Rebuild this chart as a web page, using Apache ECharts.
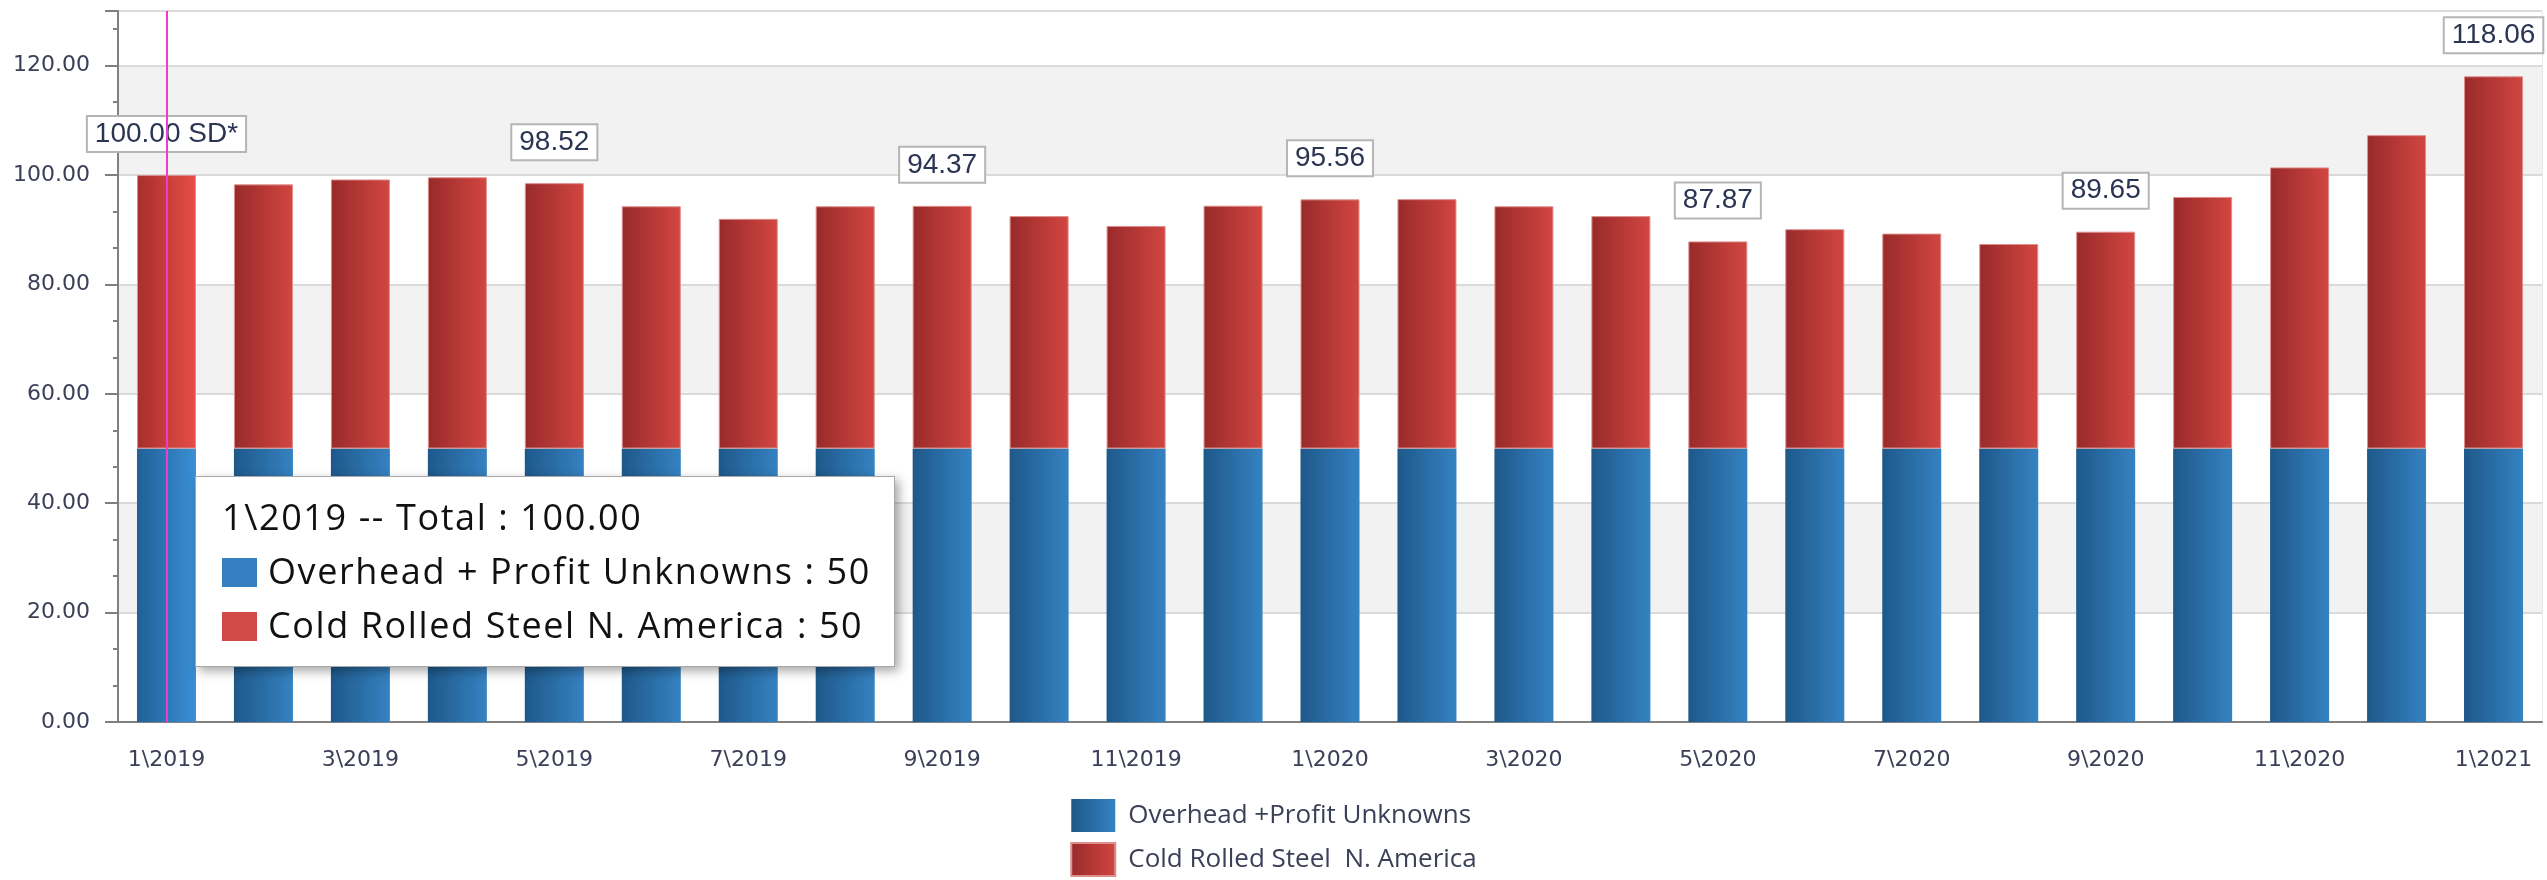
<!DOCTYPE html>
<html>
<head>
<meta charset="utf-8">
<script src="https://cdn.jsdelivr.net/npm/echarts@6/dist/echarts.min.js"></script>
<style>
html,body{margin:0;padding:0;background:#ffffff;}
#chart{width:2547px;height:880px;}
</style>
</head>
<body>
<div id="chart"></div>
<script>
// ---- data ----
const categories = ['1\\2019','2\\2019','3\\2019','4\\2019','5\\2019','6\\2019','7\\2019','8\\2019','9\\2019','10\\2019','11\\2019','12\\2019',
                    '1\\2020','2\\2020','3\\2020','4\\2020','5\\2020','6\\2020','7\\2020','8\\2020','9\\2020','10\\2020','11\\2020','12\\2020',
                    '1\\2021'];
const overheadName = 'Overhead + Profit Unknowns';
const steelName = 'Cold Rolled Steel N. America';
const overheadValues = [50,50,50,50,50,50,50,50,50,50,50,50,50,50,50,50,50,50,50,50,50,50,50,50,50];
const steelValues = [50.00,48.30,49.20,49.60,48.52,44.30,42.00,44.30,44.37,42.50,40.70,44.40,
                     45.56,45.60,44.30,42.50,37.87,40.10,39.30,37.40,39.65,46.00,51.40,57.30,68.06];
const labeledIndices = [0,4,8,12,16,20,24];
const firstLabelSuffix = ' SD*';
const yTickValues = [0,20,40,60,80,100,120];
const tooltipIndex = 0;

const totalAt = i => overheadValues[i] + steelValues[i];
const minorSlots = Array.from({length: categories.length * 5}, () => '');

const axisGray = '#808080';
const labelColor = '#3b4058';

const chart = echarts.init(document.getElementById('chart'), null, {renderer: 'canvas'});

const option = {
  animation: false,
  grid: {left: 118, right: 5, top: 11, bottom: 158, show: true, borderColor: '#d2d2d2', borderWidth: 1},
  legend: {
    orient: 'vertical', left: 'center', top: 799, padding: 0,
    itemWidth: 44, itemHeight: 33, itemGap: 10, icon: 'rect',
    data: [overheadName, steelName],
    formatter: n => n === steelName ? 'Cold Rolled Steel  N. America' : 'Overhead +Profit Unknowns',
    textStyle: {fontFamily: '"Open Sans"', fontSize: 26, color: labelColor, padding: [0,0,0,8]}
  },
  tooltip: {
    trigger: 'axis', triggerOn: 'none', alwaysShowContent: true,
    position: [195, 476], transitionDuration: 0,
    backgroundColor: '#ffffff', borderColor: '#a8a8a8', borderWidth: 1, padding: 0,
    extraCssText: 'box-shadow:4px 4px 10px rgba(0,0,0,0.35);border-radius:0;box-sizing:border-box;width:700px;height:191px;',
    axisPointer: {type: 'line', lineStyle: {color: '#f03bd0', width: 2, type: 'solid'}},
    formatter: params => {
      const i = params[0].dataIndex;
      const sq = c => '<span style="display:inline-block;width:35px;height:29px;background:' + c + ';vertical-align:-3px;margin-right:11px;"></span>';
      const st = 'font-family:\'Open Sans\';font-size:36px;letter-spacing:1.6px;line-height:54px;color:#111;white-space:nowrap;';
      return '<div style="padding:13px 10px 0 26px;' + st + '">' +
        '<div>' + categories[i] + ' -- Total : ' + totalAt(i).toFixed(2) + '</div>' +
        '<div>' + sq('#3580c0') + overheadName + ' : ' + overheadValues[i] + '</div>' +
        '<div>' + sq('#d24a45') + steelName + ' : ' + steelValues[i] + '</div>' +
        '</div>';
    }
  },
  xAxis: [{
    type: 'category', data: categories, boundaryGap: true, position: 'bottom',
    axisLine: {lineStyle: {color: axisGray, width: 2}},
    axisTick: {alignWithLabel: true, interval: 1, length: 12, lineStyle: {color: axisGray, width: 2}},
    axisLabel: {interval: 1, margin: 27, fontFamily: '"DejaVu Sans"', fontSize: 22, color: labelColor},
    splitLine: {show: false}
  }, {
    type: 'category', data: minorSlots, boundaryGap: true, position: 'bottom', offset: 0,
    axisLine: {show: false},
    axisTick: {alignWithLabel: true, interval: 1, length: 6, lineStyle: {color: axisGray, width: 2}},
    axisLabel: {show: false}, splitLine: {show: false}, axisPointer: {show: false}
  }],
  yAxis: {
    type: 'value', min: 0, max: 130, interval: 20,
    axisLine: {show: true, lineStyle: {color: axisGray, width: 2}},
    axisTick: {show: true, length: 13, lineStyle: {color: axisGray, width: 2}},
    minorTick: {show: true, splitNumber: 3, length: 5, lineStyle: {color: axisGray, width: 2}},
    axisLabel: {
      margin: 28, fontFamily: '"DejaVu Sans"', fontSize: 22, color: labelColor,
      formatter: v => yTickValues.indexOf(v) >= 0 ? v.toFixed(2) : ''
    },
    splitLine: {lineStyle: {color: '#dadada', width: 2}},
    splitArea: {show: true, areaStyle: {color: ['#ffffff', '#f2f2f2']}}
  },
  series: [{
    name: overheadName, type: 'bar', stack: 'total', barWidth: 59, xAxisIndex: 0,
    data: overheadValues,
    itemStyle: {color: new echarts.graphic.LinearGradient(0,0,1,0,[{offset:0,color:'#1e5889'},{offset:1,color:'#3582c2'}])}
  }, {
    name: steelName, type: 'bar', stack: 'total', barWidth: 59, xAxisIndex: 0,
    data: steelValues.map((v, i) => ({value: v, label: {show: labeledIndices.indexOf(i) >= 0}})),
    itemStyle: {
      color: new echarts.graphic.LinearGradient(0,0,1,0,[{offset:0,color:'#982a2a'},{offset:1,color:'#d24641'}]),
      borderColor: '#dd8f8c', borderWidth: 1
    },
    label: {
      position: 'top', distance: 24,
      formatter: p => totalAt(p.dataIndex).toFixed(2) + (p.dataIndex === 0 ? firstLabelSuffix : ''),
      fontFamily: '"Liberation Sans Narrow","Liberation Sans",Arial', fontSize: 28, lineHeight: 30,
      color: '#2b3452', backgroundColor: '#ffffff', borderColor: '#b5b5b5', borderWidth: 2,
      padding: [2, 7, 2, 7]
    }
  }]
};
chart.setOption(option);
chart.dispatchAction({type: 'showTip', seriesIndex: 0, dataIndex: tooltipIndex});
</script>
</body>
</html>
